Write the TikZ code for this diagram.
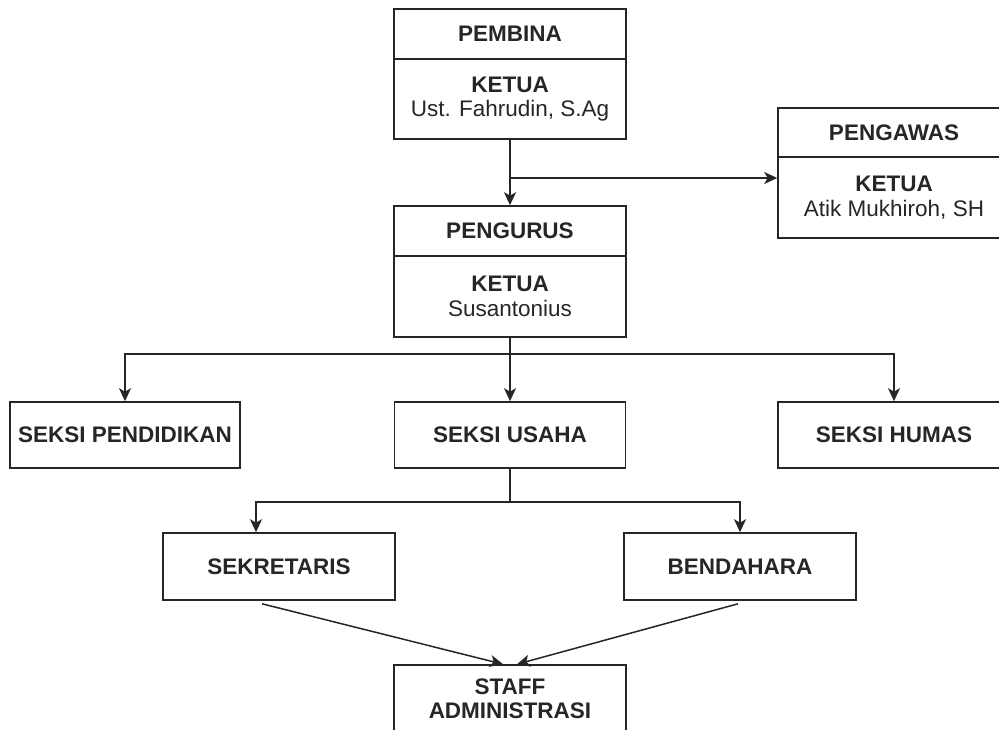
\documentclass[tikz,border=0pt]{standalone}
\usepackage{fontspec}
\setmainfont{Liberation Sans}
\usetikzlibrary{arrows.meta}
\begin{document}
\begin{tikzpicture}[x=1pt,y=-1pt,
  box/.style={draw=black!85, line width=1.6pt, minimum width=232pt, inner sep=0pt, align=center, font=\fontsize{22.5}{24.5}\selectfont, text=black!85},
  conn/.style={line width=1.5pt, draw=black!85, -{Stealth[length=13pt,width=12pt,inset=3.5pt]}},
  plain/.style={line width=1.5pt, draw=black!85}]
\useasboundingbox (0,0) rectangle (999,729);
\clip (0,0) rectangle (999,729);
% top
\node[box, minimum height=50pt] (pembinaT) at (510,34) {\textbf{PEMBINA}};
\node[box, minimum height=80pt] (pembinaB) at (510,99) {\textbf{KETUA}\\Ust. Fahrudin, S.Ag};
\node[box, minimum height=50pt] (pengurusT) at (510,231) {\textbf{PENGURUS}};
\node[box, minimum height=81pt] (pengurusB) at (510,296.5) {\textbf{KETUA}\\Susantonius};
\node[box, minimum height=49pt] (pengawasT) at (894,132.5) {\textbf{PENGAWAS}};
\node[box, minimum height=81pt] (pengawasB) at (894,197.5) {\textbf{KETUA}\\Atik Mukhiroh, SH};
% sections
\node[box, minimum width=230pt, minimum height=66pt] (pendidikan) at (125,435) {\textbf{SEKSI PENDIDIKAN}};
\node[box, minimum width=231pt, minimum height=66pt] (usaha) at (510,435) {\textbf{SEKSI USAHA}};
\node[box, minimum height=66pt] (humas) at (894,435) {\textbf{SEKSI HUMAS}};
\node[box, minimum height=67pt] (sekretaris) at (279,566.5) {\textbf{SEKRETARIS}};
\node[box, minimum height=67pt] (bendahara) at (740,566.5) {\textbf{BENDAHARA}};
\node[box, minimum height=67pt] (staff) at (510,698.5) {\textbf{STAFF}\\\textbf{ADMINISTRASI}};
% connectors
\draw[conn] (pembinaB.south) -- (pengurusT.north);
\coordinate (br1) at (510,178);
\draw[conn] (br1) -- (pengawasB.west |- br1);
\coordinate (j1) at (510,354);
\draw[plain] (pengurusB.south) -- (j1);
\draw[conn] (j1) -| (pendidikan.north);
\draw[conn] (j1) -| (humas.north);
\draw[conn] (j1) -- (usaha.north);
\coordinate (j2) at (510,502);
\draw[plain] (usaha.south) -- (j2);
\draw[conn] (j2) -| ([xshift=-23pt]sekretaris.north);
\draw[conn] (j2) -| (bendahara.north);
\draw[conn] ([xshift=-17pt,yshift=-3pt]sekretaris.south) -- ([xshift=-7pt]staff.north);
\draw[conn] ([xshift=-2pt,yshift=-3pt]bendahara.south) -- ([xshift=7pt]staff.north);
\end{tikzpicture}
\end{document}
